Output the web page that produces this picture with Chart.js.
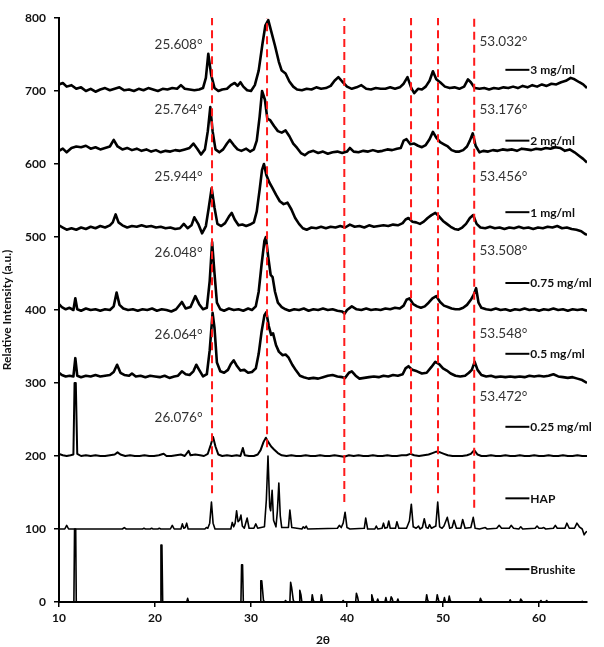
<!DOCTYPE html>
<html>
<head>
<meta charset="utf-8">
<script src="https://cdn.jsdelivr.net/npm/chart.js@4.4.1/dist/chart.umd.min.js"></script>
<style>
  html, body { margin: 0; padding: 0; background: #ffffff; }
  #wrap { width: 604px; height: 647px; }
</style>
</head>
<body>
<div id="wrap"><canvas id="xrd" width="604" height="647"></canvas></div>
<script>
// ─── Data (2θ, intensity) ──────────────────────────────────────────────────

const xTicks = [10, 20, 30, 40, 50, 60];
const yTicks = [0, 100, 200, 300, 400, 500, 600, 700, 800];

const trace3mg = [[10,709],[10.4,711],[10.8,706],[11.3,708],[11.8,703],[12.3,705],[12.8,700],[13.3,703],[13.8,699],[14.3,702],[14.8,704],[15.3,701],[15.8,703],[16.3,705],[16.8,701],[17.3,702],[17.8,700],[18.3,703],[18.8,701],[19.3,704],[19.8,702],[20.3,700],[20.8,703],[21.3,702],[21.8,704],[22.3,703],[22.7,708],[23.1,703],[23.6,702],[24.1,701],[24.6,702],[25.0,704],[25.3,718],[25.55,751],[25.85,722],[26.2,704],[26.6,700],[27.0,702],[27.5,703],[27.9,708],[28.3,711],[28.6,707],[28.9,712],[29.2,706],[29.6,701],[30.0,700],[30.4,708],[30.8,728],[31.2,765],[31.5,790],[31.8,797],[32.1,782],[32.5,762],[32.9,740],[33.2,728],[33.6,724],[34.0,713],[34.4,706],[34.8,702],[35.3,701],[35.8,703],[36.3,702],[36.8,705],[37.3,703],[37.8,704],[38.3,707],[38.7,714],[39.1,719],[39.5,713],[40.0,706],[40.5,703],[41.0,705],[41.5,708],[42.0,703],[42.5,702],[43.0,704],[43.5,703],[44.0,703],[44.5,705],[45.0,703],[45.5,705],[45.9,710],[46.3,719],[46.7,704],[47.0,697],[47.4,703],[47.8,702],[48.2,706],[48.6,714],[48.95,727],[49.3,716],[49.7,712],[50.2,706],[50.7,704],[51.2,705],[51.7,703],[52.2,706],[52.6,716],[52.9,712],[53.3,704],[53.8,703],[54.3,704],[54.8,702],[55.3,704],[55.8,703],[56.3,705],[56.8,704],[57.3,706],[57.8,704],[58.3,707],[58.8,705],[59.3,708],[59.8,706],[60.3,709],[60.8,707],[61.3,710],[61.8,709],[62.3,712],[62.8,714],[63.3,718],[63.7,716],[64.2,712],[64.6,709],[65,704]];

const trace2mg = [[10,618],[10.4,621],[10.8,616],[11.3,622],[11.8,624],[12.3,623],[12.8,625],[13.3,621],[13.8,623],[14.3,620],[14.8,622],[15.3,624],[15.7,633],[16.1,624],[16.6,620],[17.1,622],[17.6,619],[18.1,621],[18.6,618],[19.1,620],[19.6,617],[20.1,619],[20.6,616],[21.1,618],[21.6,617],[22.1,619],[22.6,618],[23.1,620],[23.6,622],[24.0,628],[24.4,621],[24.8,613],[25.2,620],[25.5,645],[25.76,678],[26.0,645],[26.3,620],[26.7,616],[27.1,620],[27.5,628],[27.8,633],[28.2,626],[28.6,620],[29.0,618],[29.5,621],[29.9,617],[30.3,620],[30.6,632],[30.9,665],[31.15,700],[31.45,688],[31.7,662],[32.0,660],[32.4,652],[32.8,645],[33.2,643],[33.6,646],[34.0,638],[34.4,628],[34.8,622],[35.2,615],[35.6,612],[36.0,616],[36.5,618],[37.0,615],[37.5,617],[38.0,614],[38.5,616],[39.0,617],[39.5,615],[40.0,617],[40.3,622],[40.7,617],[41.2,616],[41.7,618],[42.2,617],[42.7,619],[43.2,617],[43.7,618],[44.2,620],[44.7,619],[45.2,621],[45.6,622],[45.9,632],[46.2,634],[46.6,627],[47.0,628],[47.4,625],[47.8,623],[48.2,626],[48.6,634],[48.95,644],[49.3,636],[49.7,630],[50.1,627],[50.5,624],[50.9,619],[51.3,617],[51.7,617],[52.1,619],[52.5,624],[52.8,632],[53.1,642],[53.4,625],[53.8,616],[54.2,618],[54.7,617],[55.2,619],[55.7,618],[56.2,620],[56.7,619],[57.2,620],[57.7,618],[58.2,621],[58.7,620],[59.2,619],[59.7,621],[60.2,620],[60.7,622],[61.2,621],[61.7,623],[62.2,622],[62.7,618],[63.2,620],[63.7,616],[64.2,611],[64.6,607],[65,602]];

const trace1mg = [[10,516],[10.4,513],[10.8,510],[11.3,512],[11.8,510],[12.3,513],[12.8,511],[13.3,514],[13.8,512],[14.3,515],[14.8,513],[15.3,516],[15.6,520],[15.9,531],[16.2,520],[16.6,516],[17.1,513],[17.6,515],[18.1,514],[18.6,516],[19.1,514],[19.6,515],[20.1,513],[20.6,514],[21.1,512],[21.6,513],[22.1,511],[22.6,512],[23.0,518],[23.4,512],[23.8,516],[24.1,527],[24.5,518],[24.9,505],[25.3,515],[25.6,540],[25.9,567],[26.2,540],[26.5,518],[26.9,515],[27.3,519],[27.7,528],[28.0,533],[28.3,524],[28.7,516],[29.1,517],[29.5,515],[29.9,517],[30.3,520],[30.6,535],[30.9,565],[31.15,592],[31.35,600],[31.6,585],[31.9,575],[32.2,568],[32.6,558],[33.0,549],[33.4,545],[33.8,547],[34.2,538],[34.6,526],[35.0,518],[35.4,512],[35.8,510],[36.3,513],[36.8,512],[37.3,514],[37.8,512],[38.3,514],[38.8,513],[39.3,515],[39.8,513],[40.3,517],[40.8,514],[41.3,515],[41.8,513],[42.3,516],[42.8,514],[43.3,515],[43.8,516],[44.3,515],[44.8,517],[45.3,516],[45.8,519],[46.1,524],[46.4,526],[46.8,521],[47.2,520],[47.6,518],[48.0,521],[48.4,526],[48.8,530],[49.2,533],[49.6,528],[50.0,522],[50.4,518],[50.8,514],[51.2,511],[51.6,510],[52.0,513],[52.4,518],[52.8,526],[53.15,530],[53.5,518],[53.9,513],[54.4,512],[54.9,514],[55.4,512],[55.9,513],[56.4,511],[56.9,513],[57.4,512],[57.9,514],[58.4,512],[58.9,513],[59.4,511],[59.9,513],[60.4,512],[60.9,514],[61.4,513],[61.9,515],[62.4,512],[62.9,513],[63.4,511],[63.9,510],[64.4,508],[64.8,504],[65,503]];

const trace075mg = [[10,408],[10.3,404],[10.7,401],[11.1,403],[11.5,400],[11.7,416],[11.9,401],[12.3,399],[12.8,402],[13.3,400],[13.8,401],[14.3,399],[14.8,401],[15.3,400],[15.7,405],[16.0,424],[16.3,407],[16.7,402],[17.2,400],[17.7,401],[18.2,399],[18.7,401],[19.2,400],[19.7,402],[20.2,399],[20.7,401],[21.2,400],[21.7,398],[22.2,401],[22.8,411],[23.2,402],[23.7,404],[24.2,419],[24.6,408],[25.0,401],[25.4,403],[25.7,440],[25.95,493],[26.2,450],[26.45,410],[26.8,401],[27.2,399],[27.7,402],[28.2,400],[28.7,401],[29.2,399],[29.7,402],[30.1,400],[30.5,405],[30.8,425],[31.1,462],[31.4,495],[31.55,500],[31.8,472],[32.05,448],[32.25,445],[32.5,425],[32.8,410],[33.2,404],[33.6,401],[34.0,399],[34.5,401],[35.0,400],[35.5,402],[36.0,399],[36.5,401],[37.0,400],[37.5,402],[38.0,400],[38.5,401],[39.0,399],[39.5,398],[39.75,395],[40.0,400],[40.5,405],[41.0,401],[41.5,400],[42.0,402],[42.5,400],[43.0,401],[43.5,400],[44.0,402],[44.5,401],[45.0,403],[45.5,402],[45.9,406],[46.2,414],[46.5,416],[46.9,408],[47.3,405],[47.7,403],[48.1,405],[48.5,410],[48.9,416],[49.3,419],[49.7,411],[50.1,406],[50.5,404],[50.9,402],[51.3,401],[51.7,401],[52.1,403],[52.5,407],[52.9,414],[53.2,421],[53.45,430],[53.7,410],[54.0,403],[54.5,401],[55.0,400],[55.5,402],[56.0,400],[56.5,401],[57.0,399],[57.5,401],[58.0,400],[58.5,402],[59.0,400],[59.5,401],[60.0,399],[60.5,401],[61.0,400],[61.5,402],[62.0,400],[62.5,401],[63.0,399],[63.5,401],[64.0,400],[64.5,401],[65,399]];

const trace05mg = [[10,314],[10.3,311],[10.7,309],[11.1,310],[11.5,309],[11.7,334],[11.9,310],[12.3,308],[12.8,310],[13.3,309],[13.8,311],[14.3,309],[14.8,310],[15.3,311],[15.7,315],[16.05,325],[16.4,314],[16.8,311],[17.3,310],[17.6,313],[18.0,309],[18.5,310],[19.0,308],[19.5,310],[20.0,309],[20.5,308],[21.0,310],[21.5,307],[22.0,309],[22.4,310],[22.8,316],[23.2,312],[23.6,311],[24.0,316],[24.3,325],[24.6,318],[25.0,309],[25.4,312],[25.7,345],[26.0,396],[26.2,375],[26.45,328],[26.8,316],[27.2,314],[27.6,318],[27.9,326],[28.2,331],[28.5,324],[28.9,317],[29.3,318],[29.7,314],[30.1,315],[30.5,320],[30.8,340],[31.1,370],[31.4,393],[31.6,397],[31.85,378],[32.1,366],[32.3,368],[32.6,352],[32.9,343],[33.3,338],[33.6,339],[33.9,335],[34.3,325],[34.7,317],[35.1,310],[35.5,308],[36.0,306],[36.5,307],[37.0,306],[37.5,308],[38.0,310],[38.5,311],[39.0,309],[39.5,308],[39.8,307],[40.2,314],[40.5,316],[40.9,310],[41.3,306],[41.8,307],[42.3,308],[42.8,309],[43.3,308],[43.8,310],[44.3,309],[44.8,311],[45.3,310],[45.8,312],[46.1,320],[46.4,323],[46.8,318],[47.3,316],[47.8,313],[48.3,314],[48.8,322],[49.2,329],[49.6,326],[50.0,320],[50.4,317],[50.8,313],[51.3,310],[51.8,309],[52.3,310],[52.7,314],[53.0,318],[53.3,329],[53.6,318],[54.0,311],[54.5,309],[55.0,310],[55.5,308],[56.0,309],[56.5,308],[57.0,309],[57.5,308],[58.0,309],[58.5,308],[59.0,310],[59.5,309],[60.0,310],[60.5,309],[61.0,310],[61.5,312],[62.0,309],[62.5,308],[63.0,307],[63.5,308],[64.0,306],[64.5,304],[65,300]];

const trace025mg = [[10,203],[10.4,201],[10.8,200],[11.2,201],[11.5,202],[11.62,300],[11.75,300],[11.9,203],[12.3,200],[12.8,201],[13.3,200],[13.8,201],[14.3,200],[14.8,200],[15.3,201],[15.8,202],[16.1,205],[16.4,202],[16.9,200],[17.4,201],[17.9,200],[18.4,200],[18.9,201],[19.4,200],[19.9,200],[20.4,201],[20.9,203],[21.2,200],[21.7,200],[22.2,201],[22.7,202],[23.1,200],[23.5,207],[23.7,201],[24.2,202],[24.7,201],[25.1,200],[25.5,203],[25.8,215],[26.05,226],[26.3,213],[26.6,202],[27.0,200],[27.5,201],[28.0,200],[28.5,201],[28.9,200],[29.15,211],[29.35,201],[29.8,200],[30.3,200],[30.7,202],[31.0,208],[31.3,219],[31.55,225],[31.8,219],[32.1,213],[32.4,209],[32.8,204],[33.2,201],[33.7,200],[34.2,201],[34.7,200],[35.2,200],[35.7,201],[36.2,200],[36.7,200],[37.2,201],[37.7,200],[38.2,200],[38.7,201],[39.2,200],[39.7,199],[40.2,201],[40.7,200],[41.2,201],[41.7,200],[42.2,200],[42.7,201],[43.2,200],[43.7,200],[44.2,201],[44.7,200],[45.2,200],[45.7,201],[46.2,201],[46.6,203],[47.0,201],[47.5,200],[48.0,201],[48.5,202],[48.9,204],[49.3,206],[49.7,205],[50.1,203],[50.5,201],[51.0,200],[51.5,200],[52.0,200],[52.5,201],[52.9,203],[53.25,208],[53.6,202],[54.0,200],[54.5,200],[55.0,201],[55.5,200],[56.0,200],[56.5,201],[57.0,200],[57.5,200],[58.0,201],[58.5,200],[59.0,200],[59.5,201],[60.0,200],[60.5,200],[61.0,201],[61.5,200],[62.0,200],[62.5,201],[63.0,200],[63.5,200],[64.0,201],[64.5,200],[65,200]];

const traceHAP = [[10,100],[10.6,100],[10.8,105],[11.0,100],[16.6,100],[16.8,102],[17.0,100],[18.7,100],[18.85,101],[19.0,100],[19.5,100],[19.65,101],[19.8,100],[20.3,100],[20.45,101],[20.6,100],[21.6,100],[21.8,105],[22.0,100],[22.7,100],[22.85,107],[23.0,101],[23.15,102],[23.3,108],[23.45,100],[25.2,100],[25.35,102],[25.5,101],[25.7,108],[25.88,137],[26.05,108],[26.25,100],[27.9,100],[28.05,109],[28.2,103],[28.35,108],[28.5,125],[28.65,110],[28.8,112],[28.95,119],[29.1,104],[29.3,101],[29.6,115],[29.8,101],[30.3,101],[30.5,107],[30.7,101],[31.4,103],[31.6,140],[31.77,200],[31.95,130],[32.05,125],[32.2,153],[32.35,112],[32.6,103],[32.75,125],[32.9,163],[33.05,118],[33.2,102],[33.9,102],[34.05,126],[34.25,102],[35.3,100],[35.45,103],[35.6,101],[35.75,104],[35.9,100],[39.0,101],[39.2,105],[39.4,102],[39.6,108],[39.8,123],[40.0,102],[40.3,100],[41.8,101],[41.95,115],[42.15,100],[42.9,100],[43.05,104],[43.2,100],[43.65,101],[43.8,108],[43.95,101],[44.2,102],[44.35,111],[44.5,101],[45.05,101],[45.2,110],[45.4,101],[46.2,101],[46.5,111],[46.7,134],[46.9,103],[47.2,101],[47.45,104],[47.6,100],[47.85,102],[48.05,114],[48.25,102],[48.45,101],[48.6,106],[48.8,101],[49.25,104],[49.45,137],[49.65,103],[49.9,101],[50.1,104],[50.45,116],[50.7,101],[50.95,102],[51.15,112],[51.4,101],[51.85,101],[52.05,113],[52.3,101],[52.9,102],[53.15,116],[53.35,101],[53.8,100],[54.4,102],[54.6,100],[55.6,101],[55.85,105],[56.1,101],[56.9,101],[57.1,105],[57.35,101],[57.9,100],[58.1,103],[58.3,100],[59.6,101],[59.8,104],[60.0,101],[60.3,101],[60.5,102],[60.7,100],[61.5,101],[61.7,105],[61.9,101],[62.7,101],[62.9,108],[63.15,101],[63.7,101],[63.95,108],[64.2,103],[64.5,100],[64.7,92],[64.85,95],[65,97]];

const traceBrushite = [[10,0],[11.55,0],[11.62,100],[11.74,100],[11.8,0],[20.55,0],[20.62,78],[20.72,78],[20.8,0],[23.3,0],[23.4,5],[23.5,0],[28.95,0],[29.02,51],[29.12,51],[29.2,0],[30.95,0],[31.02,29],[31.12,29],[31.3,2],[31.45,0],[33.5,0],[33.6,2],[33.7,0],[34.05,0],[34.13,27],[34.23,20],[34.4,3],[34.5,0],[35.0,0],[35.08,16],[35.2,10],[35.3,0],[36.3,0],[36.38,10],[36.5,2],[36.6,0],[37.25,0],[37.33,10],[37.45,0],[39.5,0],[39.6,2],[39.7,0],[40.9,0],[40.98,12],[41.1,7],[41.2,0],[42.5,0],[42.58,10],[42.7,4],[42.8,0],[43.1,0],[43.2,4],[43.3,0],[43.95,0],[44.05,6],[44.15,0],[44.5,0],[44.6,7],[44.7,5],[44.8,0],[45.2,0],[45.3,4],[45.4,0],[48.2,0],[48.3,10],[48.4,3],[48.5,0],[49.3,0],[49.4,10],[49.5,4],[49.6,0],[50.05,0],[50.15,6],[50.25,0],[50.55,0],[50.65,8],[50.75,2],[50.85,0],[53.8,0],[53.9,5],[54.0,2],[54.1,0],[56.9,0],[57.0,3],[57.1,0],[58.0,0],[58.1,4],[58.2,2],[58.3,0],[60.1,0],[60.2,2],[60.3,0],[60.7,0],[60.8,2],[60.9,0],[64.4,0],[64.5,1],[64.6,0],[65,0]];

// red guide lines: 2θ position, lower end (top end is 800)
const guideX   = [25.94, 31.67, 39.72, 46.67, 49.48, 53.25];
const guideLow = [149, 212, 137, 149, 149, 129];

// peak position annotations
const leftPeakText  = ["25.608°", "25.764°", "25.944°", "26.048°", "26.064°", "26.076°"];
const leftPeakY     = [763, 674, 582, 478, 366, 253];
const rightPeakText = ["53.032°", "53.176°", "53.456°", "53.508°", "53.548°", "53.472°"];
const rightPeakY    = [767, 674, 582, 481, 368, 281];

// series labels on the right
const seriesNames  = ["3 mg/ml", "2 mg/ml", "1 mg/ml", "0.75 mg/ml", "0.5 mg/ml", "0.25 mg/ml", "HAP", "Brushite"];
const seriesLabelY = [729, 632, 534, 437, 340, 240, 142, 45];

// ─── Chart ─────────────────────────────────────────────────────────────────

const FONT = "Lato, 'Open Sans', sans-serif";

const guideSets = guideX.map((gx, i) => ({
    data: [[gx, guideLow[i]], [gx, 800]],
    borderColor: "#ff1a1a",
    borderWidth: 2,
    borderDash: [8, 5],
    pointRadius: 0,
}));

const traceSet = (data, width) => ({
    data,
    borderColor: "#000000",
    borderWidth: width,
    borderJoinStyle: "round",
    pointRadius: 0,
    tension: 0,
});

// text and legend marks drawn on top, positioned through the scales
const labelPlugin = {
    id: "xrdLabels",
    afterDatasetsDraw(chart) {
        const { ctx, scales: { x, y } } = chart;
        ctx.save();
        ctx.textBaseline = "middle";
        ctx.fillStyle = "#333333";
        ctx.font = "13.5px " + FONT;
        ctx.textAlign = "right";
        leftPeakText.forEach((t, i) => ctx.fillText(t, x.getPixelForValue(24.95), y.getPixelForValue(leftPeakY[i])));
        ctx.textAlign = "left";
        rightPeakText.forEach((t, i) => ctx.fillText(t, x.getPixelForValue(53.8), y.getPixelForValue(rightPeakY[i])));

        ctx.fillStyle = "#111111";
        ctx.strokeStyle = "#000000";
        ctx.lineWidth = 2;
        ctx.font = "bold 12px " + FONT;
        seriesNames.forEach((t, i) => {
            const py = y.getPixelForValue(seriesLabelY[i]);
            ctx.beginPath();
            ctx.moveTo(x.getPixelForValue(56.5), py);
            ctx.lineTo(x.getPixelForValue(59.0), py);
            ctx.stroke();
            ctx.fillText(t, x.getPixelForValue(59.1), py + 0.5);
        });
        ctx.restore();
    },
};

const bgPlugin = {
    id: "whiteBg",
    beforeDraw(chart) {
        const { ctx } = chart;
        ctx.save();
        ctx.fillStyle = "#ffffff";
        ctx.fillRect(0, 0, chart.width, chart.height);
        ctx.restore();
    },
};

new Chart(document.getElementById("xrd"), {
    type: "line",
    data: {
        datasets: [
            ...guideSets,
            traceSet(trace3mg, 2.6),
            traceSet(trace2mg, 2.6),
            traceSet(trace1mg, 2.6),
            traceSet(trace075mg, 2.6),
            traceSet(trace05mg, 2.6),
            traceSet(trace025mg, 2),
            traceSet(traceHAP, 1.6),
            traceSet(traceBrushite, 1.6),
        ],
    },
    options: {
        responsive: false,
        animation: false,
        events: [],
        layout: { padding: { top: 18, right: 17, left: 0, bottom: 0 } },
        plugins: { legend: { display: false }, tooltip: { enabled: false } },
        scales: {
            x: {
                type: "linear",
                min: 10,
                max: 65,
                afterBuildTicks: (s) => { s.ticks = xTicks.map(v => ({ value: v })); },
                afterFit: (s) => { s.height = 45; },
                grid: { display: true, drawOnChartArea: false, tickLength: 5, color: "#000000", lineWidth: 1.5 },
                border: { color: "#000000", width: 2 },
                ticks: { color: "#111111", font: { family: FONT, size: 12, weight: "bold" }, padding: 4 },
                title: {
                    display: true,
                    text: "2θ",
                    color: "#111111",
                    font: { family: FONT, size: 12, weight: "bold" },
                    padding: { top: 1, bottom: 0 },
                },
            },
            y: {
                type: "linear",
                min: 0,
                max: 800,
                afterBuildTicks: (s) => { s.ticks = yTicks.map(v => ({ value: v })); },
                afterFit: (s) => { s.width = 59; },
                grid: { display: true, drawOnChartArea: false, tickLength: 5, color: "#000000", lineWidth: 1.5 },
                border: { color: "#000000", width: 2 },
                ticks: { color: "#111111", font: { family: FONT, size: 12, weight: "bold" }, padding: 8 },
                title: {
                    display: true,
                    text: "Relative Intensity (a.u.)",
                    color: "#111111",
                    font: { family: FONT, size: 12, weight: "bold" },
                    padding: { top: 0, bottom: 2 },
                },
            },
        },
    },
    plugins: [bgPlugin, labelPlugin],
});
</script>
</body>
</html>
